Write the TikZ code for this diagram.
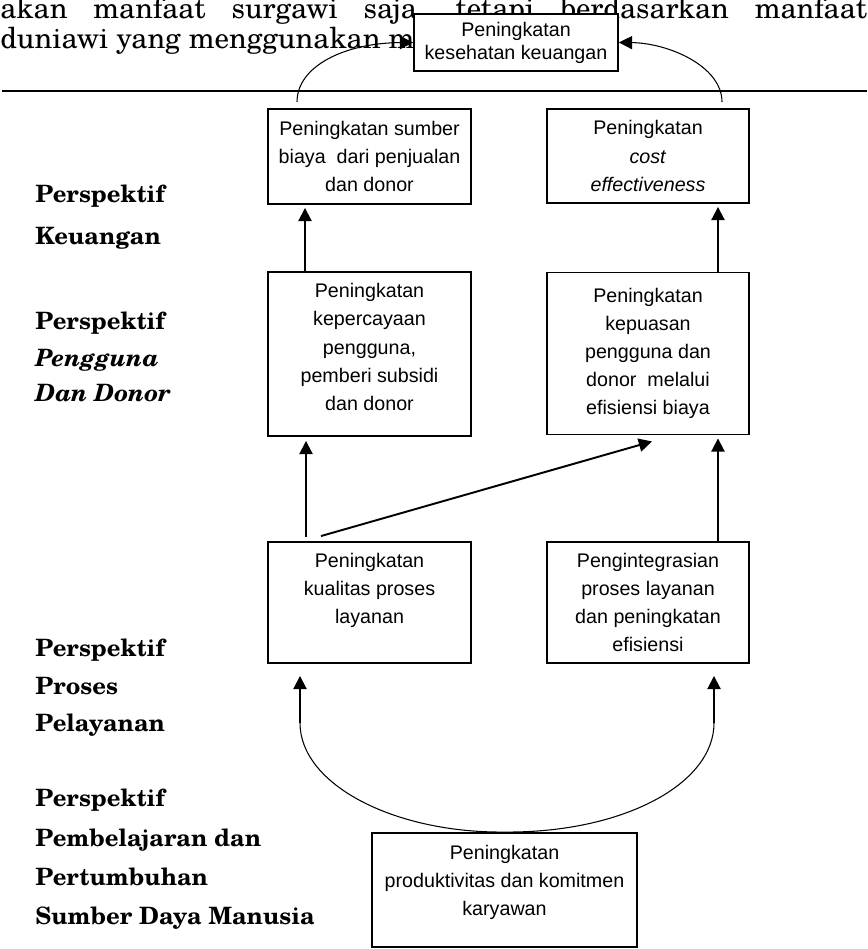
\documentclass[tikz,border=0pt]{standalone}
\usepackage{fontspec}
\setmainfont{TeX Gyre Schola}
\newfontfamily\boxfont{Liberation Sans}
\usetikzlibrary{arrows.meta}

\begin{document}
\begin{tikzpicture}[
  x=0.02cm, y=-0.02cm,
  box/.style={draw, line width=1.1pt, fill=white, align=center, inner sep=1pt,
              font=\boxfont\fontsize{11.2}{16}\selectfont},
  lbl/.style={anchor=base west, inner sep=0pt, font=\bfseries\fontsize{13.6}{16}\selectfont},
  body/.style={anchor=base west, inner sep=0pt, font=\fontsize{16.5}{20}\selectfont},
  arr/.style={-{Triangle[length=7.5pt,width=7.5pt]}, line width=1.1pt},
  curv/.style={line width=0.6pt}]
\useasboundingbox (0,0) rectangle (867,949);
% running text of the page
\node[body] (txta) at (0,19) {\makebox[17.34cm][s]{akan manfaat surgawi saja, tetapi berdasarkan manfaat}};
\node[body] (txtb) at (0,49) {duniawi yang menggunakan m};
\coordinate (ruleL) at (2,91);
\coordinate (ruleR) at (867,91);
\draw[line width=1.1pt] (ruleL) -- (ruleR);
% perspective labels
\node[lbl] (keu1) at (35,203) {Perspektif};
\node[lbl] (keu2) at (35,245) {Keuangan};
\node[lbl] (pen1) at (35,329) {Perspektif};
\node[lbl] (pen2) at (35,366) {\textit{Pengguna}};
\node[lbl] (pen3) at (35,401) {\textit{Dan Donor}};
\node[lbl] (pro1) at (35,656) {Perspektif};
\node[lbl] (pro2) at (35,694) {Proses};
\node[lbl] (pro3) at (35,731) {Pelayanan};
\node[lbl] (sdm1) at (35,806) {Perspektif};
\node[lbl] (sdm2) at (35,846) {Pembelajaran dan};
\node[lbl] (sdm3) at (35,885) {Pertumbuhan};
\node[lbl] (sdm4) at (35,924) {Sumber Daya Manusia};
% boxes
\node[box, minimum width=4.08cm, minimum height=1.14cm,
      font=\boxfont\fontsize{11.2}{13}\selectfont] (kesehatan) at (516,42.5) {Peningkatan\\kesehatan keuangan};
\node[box, minimum width=4.06cm, minimum height=1.9cm] (sumber) at (369.5,156.5) {Peningkatan sumber\\biaya\ \ dari penjualan\\dan donor};
\node[box, minimum width=4.04cm, minimum height=1.88cm] (cost) at (648,156) {Peningkatan\\\textit{cost}\\\textit{effectiveness}};
\node[box, minimum width=4.06cm, minimum height=3.28cm] (kepercayaan) at (369.5,354) {Peningkatan\\kepercayaan\\pengguna,\\pemberi subsidi\\dan donor\\[-8pt]\mbox{}};
\node[box, minimum width=4.04cm, minimum height=3.24cm] (kepuasan) at (648,353.5) {Peningkatan\\kepuasan\\pengguna dan\\donor\ \ melalui\\efisiensi biaya};
\node[box, minimum width=4.06cm, minimum height=2.42cm] (kualitas) at (369.5,602.5) {Peningkatan\\kualitas proses\\layanan\\\mbox{}};
\node[box, minimum width=4.04cm, minimum height=2.42cm] (integrasi) at (648,602.5) {Pengintegrasian\\proses layanan\\dan peningkatan\\efisiensi};
\node[box, minimum width=5.3cm, minimum height=2.28cm] (produktivitas) at (504.5,890) {Peningkatan\\produktivitas dan komitmen\\karyawan\\[-5pt]\mbox{}};
% connectors to the top box
\coordinate (sumberUp) at (297,102);
\coordinate (costUp) at (722,102);
\draw[curv, -{Triangle[length=7.5pt,width=7.5pt]}] (sumberUp) .. controls (297,66) and (345,43) .. (kesehatan.west);
\draw[curv, -{Triangle[length=7.5pt,width=7.5pt]}] (costUp) .. controls (722,66) and (668,43) .. (kesehatan.east);
% upward arrows
\draw[arr] ([xshift=-1.29cm]kepercayaan.north) -- ([xshift=-1.29cm,yshift=-0.06cm]sumber.south);
\draw[arr] ([xshift=1.4cm]kepuasan.north) -- ([xshift=1.4cm,yshift=-0.06cm]cost.south);
\draw[arr] ([xshift=-1.27cm,yshift=0.08cm]kualitas.north) -- ([xshift=-1.27cm,yshift=-0.08cm]kepercayaan.south);
\draw[arr] ([xshift=1.4cm]integrasi.north) -- ([xshift=1.4cm,yshift=-0.06cm]kepuasan.south);
\draw[arr] ([xshift=-0.97cm,yshift=0.1cm]kualitas.north) -- ([xshift=0.08cm,yshift=-0.12cm]kepuasan.south);
% from the bottom box
\coordinate (kneeL) at (300,723);
\coordinate (kneeR) at (714,723);
\draw[curv] (produktivitas.north) .. controls (393,833) and (300,784) .. (kneeL);
\draw[curv] (produktivitas.north) .. controls (623,833) and (714,784) .. (kneeR);
\draw[arr, shorten >=0.24cm] (kneeL) -- (kneeL |- kualitas.south);
\draw[arr, shorten >=0.24cm] (kneeR) -- (kneeR |- integrasi.south);
\end{tikzpicture}
\end{document}
